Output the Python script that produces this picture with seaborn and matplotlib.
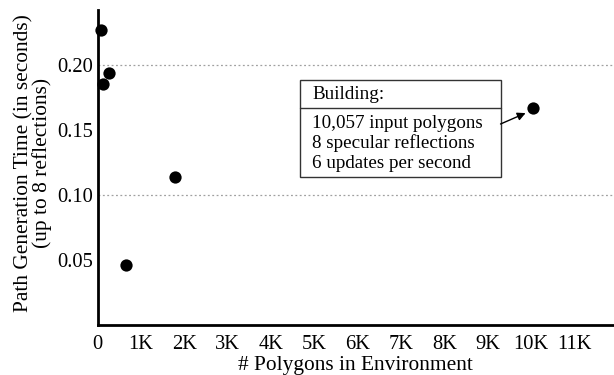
import matplotlib
matplotlib.use("Agg")
import matplotlib.pyplot as plt
import seaborn as sns
import pandas as pd
from matplotlib.patches import Rectangle

# Measured path generation times vs. environment size
polygons = [80, 130, 270, 650, 1785, 10057]
seconds = [0.227, 0.185, 0.194, 0.046, 0.114, 0.1667]

x_ticks = [0, 1000, 2000, 3000, 4000, 5000, 6000, 7000, 8000, 9000, 10000, 11000]
x_tick_labels = ["0", "1K", "2K", "3K", "4K", "5K", "6K", "7K", "8K", "9K", "10K", "11K"]
y_ticks = [0.05, 0.10, 0.15, 0.20]
y_tick_labels = ["0.05", "0.10", "0.15", "0.20"]
grid_levels = [0.10, 0.20]

box_title = "Building:"
box_lines = ["10,057 input polygons", "8 specular reflections", "6 updates per second"]

df = pd.DataFrame({"polygons": polygons, "seconds": seconds})

sns.set_theme(style="white")
plt.rcParams["font.family"] = ["Liberation Serif", "DejaVu Serif"]

fig = plt.figure(figsize=(6.14, 3.75), dpi=100)
ax = fig.add_axes([97.7 / 614, 50 / 375, 1 - 97.7 / 614, 315 / 375])

sns.scatterplot(data=df, x="polygons", y="seconds", ax=ax, color="black",
                s=78, edgecolor="black", linewidth=0, zorder=5, clip_on=False)

for g in grid_levels:
    ax.axhline(g, color="#a0a0a0", linestyle=(0, (1.5, 2)), linewidth=0.9, zorder=1)

ax.set_xlim(0, 11920)
ax.set_ylim(0, 0.2423)
ax.set_xticks(x_ticks)
ax.set_xticklabels(x_tick_labels)
ax.set_yticks(y_ticks)
ax.set_yticklabels(y_tick_labels)
ax.tick_params(axis="both", labelsize=14.8, colors="black", length=3, width=1,
               direction="out", pad=0.3)
ax.tick_params(axis="x", pad=4)

for side in ["top", "right"]:
    ax.spines[side].set_visible(False)
for side in ["left", "bottom"]:
    ax.spines[side].set_color("black")
    ax.spines[side].set_linewidth(2.0)

ax.set_xlabel("# Polygons in Environment", fontsize=15.4, color="black", labelpad=1.5)
ax.set_ylabel("Path Generation Time (in seconds)\n(up to 8 reflections)",
              fontsize=15.4, color="black", linespacing=0.95)
ax.yaxis.set_label_coords(-0.088, 0.514)

# Annotation box describing the building model
bx0, bx1 = 0.392, 0.7806
by0, by1 = 0.471, 0.778
bdiv = 0.688
ax.add_patch(Rectangle((bx0, by0), bx1 - bx0, by1 - by0, transform=ax.transAxes,
                       fill=True, facecolor="white", edgecolor="#333333",
                       linewidth=1.0, zorder=6))
ax.plot([bx0, bx1], [bdiv, bdiv], transform=ax.transAxes, color="#333333",
        linewidth=1.0, zorder=7)
ax.text(bx0 + 0.024, (by1 + bdiv) / 2, box_title, transform=ax.transAxes,
        fontsize=13.8, va="center", ha="left", color="black", zorder=8)
ax.text(bx0 + 0.023, bdiv - 0.022, "\n".join(box_lines), transform=ax.transAxes,
        fontsize=13.7, va="top", ha="left", color="black", linespacing=1.17, zorder=8)

ax.annotate("", xy=(polygons[-1] - 60, seconds[-1] - 0.002),
            xytext=(9300, 0.1546),
            arrowprops=dict(arrowstyle="-|>", color="black", lw=1.0,
                            mutation_scale=12, shrinkA=0, shrinkB=4),
            zorder=8)

fig.savefig("out.png", dpi=100)
